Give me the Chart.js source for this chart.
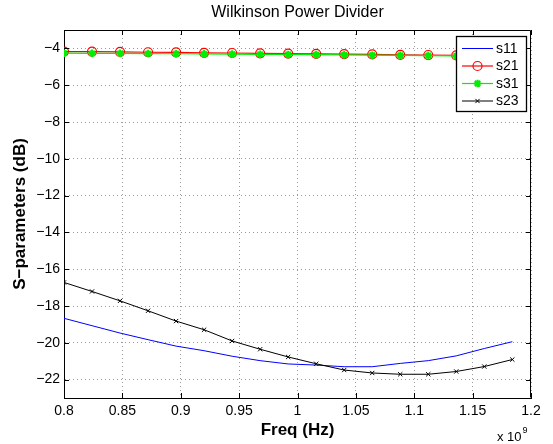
<!DOCTYPE html>
<html><head><meta charset="utf-8">
<script src="https://cdn.jsdelivr.net/npm/chart.js@4"></script>
<style>html,body{margin:0;padding:0;background:#fff}#wrap{width:553px;height:444px}</style>
</head><body><div id="wrap"><canvas id="c" width="553" height="444"></canvas></div>
<script>
const chartTitle = 'Wilkinson Power Divider';
const xTitle = 'Freq (Hz)';
const yTitle = 'S\u2212parameters (dB)';
const xExponent = '9';

const freq = [0.8, 0.824, 0.848, 0.872, 0.896, 0.92, 0.944, 0.968, 0.992, 1.016, 1.04, 1.064, 1.088, 1.112, 1.136, 1.16, 1.184];
const s11 = [-18.67, -19.07, -19.47, -19.83, -20.18, -20.43, -20.73, -20.97, -21.15, -21.21, -21.30, -21.30, -21.12, -20.97, -20.71, -20.31, -19.94];
const s21 = [-4.17, -4.18, -4.19, -4.21, -4.22, -4.24, -4.25, -4.27, -4.28, -4.30, -4.31, -4.33, -4.35, -4.36, -4.38, -4.39, -4.41];
const s31 = [-4.26, -4.27, -4.27, -4.28, -4.29, -4.30, -4.31, -4.32, -4.33, -4.34, -4.35, -4.37, -4.38, -4.39, -4.41, -4.42, -4.43];
const s23 = [-16.72, -17.21, -17.72, -18.26, -18.82, -19.29, -19.90, -20.35, -20.77, -21.14, -21.48, -21.64, -21.71, -21.71, -21.56, -21.29, -20.91];

const xTicks = [0.8, 0.85, 0.9, 0.95, 1.0, 1.05, 1.1, 1.15, 1.2];
const xTickLabels = ['0.8', '0.85', '0.9', '0.95', '1', '1.05', '1.1', '1.15', '1.2'];
const yTicks = [-22, -20, -18, -16, -14, -12, -10, -8, -6, -4];
const yTickLabels = ['\u221222', '\u221220', '\u221218', '\u221216', '\u221214', '\u221212', '\u221210', '\u22128', '\u22126', '\u22124'];

const FONT = '"Liberation Sans", Arial, Helvetica, sans-serif';
const pts = arr => arr.map((v, i) => ({x: freq[i], y: v}));

const datasets = [
  {label: 's11', order: 3, data: pts(s11), borderColor: '#0000ff', backgroundColor: '#0000ff', borderWidth: 1, pointRadius: 0, pointStyle: false},
  {label: 's21', order: 2, data: pts(s21), borderColor: '#ff0000', backgroundColor: 'rgba(0,0,0,0)', borderWidth: 1.2, pointRadius: 4.5, pointBorderWidth: 1.2, pointStyle: 'circle'},
  {label: 's31', order: 1, data: pts(s31), borderColor: '#00ee00', backgroundColor: '#00ee00', borderWidth: 1.2, pointRadius: 3.8, pointBorderWidth: 2, pointStyle: 'star'},
  {label: 's23', order: 0, data: pts(s23), borderColor: '#000000', backgroundColor: '#000000', borderWidth: 1, pointRadius: 3, pointBorderWidth: 1, pointStyle: 'crossRot'}
];

const decor = {
  id: 'decor',
  afterDraw(chart) {
    const ctx = chart.ctx, a = chart.chartArea;
    const xs = chart.scales.x, ys = chart.scales.y;
    ctx.save();
    // box
    ctx.strokeStyle = '#000'; ctx.lineWidth = 1;
    ctx.beginPath();
    ctx.moveTo(Math.round(a.left) + 0.5, Math.round(a.top) + 0.5);
    ctx.lineTo(Math.round(a.right) - 0.5, Math.round(a.top) + 0.5);
    ctx.lineTo(Math.round(a.right) - 0.5, Math.round(a.bottom) - 0.5);
    ctx.stroke();
    // inward ticks
    const tl = 5;
    ctx.beginPath();
    xTicks.forEach(v => {
      const px = Math.round(xs.getPixelForValue(v)) + 0.5;
      ctx.moveTo(px, a.bottom); ctx.lineTo(px, a.bottom - tl);
      ctx.moveTo(px, a.top); ctx.lineTo(px, a.top + tl);
    });
    yTicks.forEach(v => {
      const py = Math.round(ys.getPixelForValue(v)) + 0.5;
      ctx.moveTo(a.left, py); ctx.lineTo(a.left + tl, py);
      ctx.moveTo(a.right, py); ctx.lineTo(a.right - tl, py);
    });
    ctx.stroke();
    // title
    ctx.fillStyle = '#000';
    ctx.font = '16px ' + FONT;
    ctx.textAlign = 'center'; ctx.textBaseline = 'middle';
    ctx.fillText(chartTitle, (a.left + a.right) / 2, 13);
    // exponent
    ctx.textAlign = 'left'; ctx.textBaseline = 'alphabetic';
    ctx.font = '13px ' + FONT;
    const ex = 497, ey = 441;
    ctx.fillText('x 10', ex, ey);
    const w = ctx.measureText('x 10').width;
    ctx.font = '9px ' + FONT;
    ctx.fillText(xExponent, ex + w + 1, ey - 8);
    // legend
    const lx = 456, ly = 36, lw = 70, lh = 75;
    ctx.fillStyle = '#fff';
    ctx.fillRect(lx, ly, lw, lh);
    ctx.strokeStyle = '#000'; ctx.lineWidth = 1.3;
    ctx.strokeRect(lx + 0.5, ly + 0.5, lw, lh);
    ctx.font = '14px ' + FONT;
    ctx.textBaseline = 'middle';
    chart.data.datasets.forEach((ds, i) => {
      const y = ly + 12.5 + i * 17.5;
      ctx.strokeStyle = ds.borderColor; ctx.lineWidth = ds.borderWidth;
      ctx.beginPath(); ctx.moveTo(462, y); ctx.lineTo(493, y); ctx.stroke();
      if (ds.pointStyle) {
        ctx.fillStyle = ds.backgroundColor; ctx.strokeStyle = ds.borderColor;
        ctx.lineWidth = ds.pointBorderWidth;
        Chart.helpers.drawPoint(ctx, {pointStyle: ds.pointStyle, radius: ds.pointRadius, rotation: 0, borderWidth: ds.pointBorderWidth}, 477.5, y);
      }
      ctx.fillStyle = '#000';
      ctx.fillText(ds.label, 496, y + 0.5);
    });
    ctx.restore();
  }
};

new Chart(document.getElementById('c'), {
  type: 'line',
  data: {datasets},
  options: {
    responsive: false, animation: false, devicePixelRatio: 1,
    layout: {padding: {left: 10, top: 30, right: 22, bottom: 0}},
    elements: {line: {tension: 0}},
    plugins: {legend: {display: false}, tooltip: {enabled: false}, title: {display: false}},
    scales: {
      x: {
        type: 'linear', min: 0.8, max: 1.2,
        afterBuildTicks: s => { s.ticks = xTicks.map(v => ({value: v})); },
        afterFit: s => { s.height = 46; },
        ticks: {autoSkip: false, maxRotation: 0, color: '#000', padding: 5, font: {family: FONT, size: 14},
          callback: (v, i) => xTickLabels[i]},
        grid: {color: '#9a9a9a', lineWidth: 1, drawTicks: false},
        border: {display: true, color: '#000', width: 1, dash: [1, 3]},
        title: {display: true, text: xTitle, color: '#000', font: {family: FONT, size: 17, weight: 'bold'}, padding: {top: 0, bottom: 3}}
      },
      y: {
        type: 'linear', min: -23, max: -3,
        afterBuildTicks: s => { s.ticks = yTicks.map(v => ({value: v})); },
        afterFit: s => { s.width = 54; },
        ticks: {autoSkip: false, color: '#000', padding: 4, font: {family: FONT, size: 14},
          callback: (v, i) => yTickLabels[i]},
        grid: {color: '#9a9a9a', lineWidth: 1, drawTicks: false},
        border: {display: true, color: '#000', width: 1, dash: [1, 3]},
        title: {display: true, text: yTitle, color: '#000', font: {family: FONT, size: 17, weight: 'bold'}, padding: {top: 0, bottom: 0}}
      }
    }
  },
  plugins: [decor]
});
</script>
</body></html>
